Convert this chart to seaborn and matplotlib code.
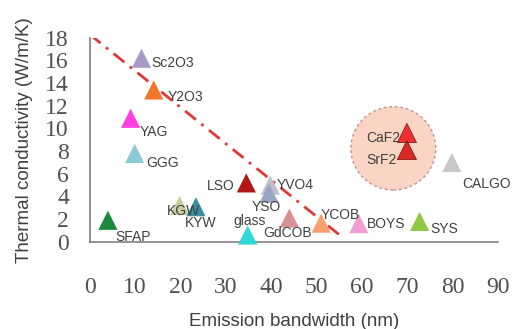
import numpy as np
import matplotlib.pyplot as plt
import pandas as pd
import seaborn as sns
from matplotlib.patches import Ellipse

sns.set_theme(style='white')
plt.rcParams['font.family'] = ['Liberation Sans', 'DejaVu Sans']

# crystal data
names = ['Sc2O3', 'Y2O3', 'YAG', 'GGG', 'LSO', 'YVO4', 'YSO', 'KGW', 'KYW', 'SFAP',
         'glass', 'GdCOB', 'YCOB', 'BOYS', 'SYS', 'CALGO', 'CaF2', 'SrF2']
bandwidth = [11.4, 14.1, 9.0, 9.9, 34.5, 39.8, 39.5, 19.8, 23.4, 4.0,
             34.8, 44.0, 51.0, 59.3, 72.7, 79.8, 69.9, 69.9]
conductivity = [16.2, 13.4, 10.9, 7.8, 5.2, 5.0, 4.3, 3.2, 3.1, 1.9,
                0.6, 2.1, 1.65, 1.6, 1.8, 7.0, 9.6, 8.1]
colors = ['#a99bc8', '#f07828', '#ff40e0', '#8ecad6', '#b01818', '#c0c0cc', '#9aa6c6',
          '#c8d0a0', '#3a8ea0', '#1a8a3a', '#30d8d8', '#d89090', '#f8a070', '#f0a0d0',
          '#90c840', '#c8c8c8', '#f03030', '#d82820']
# label offsets in pixels (dx, dy) and alignment
offsets = {'Sc2O3': (10, -5, 'left'), 'Y2O3': (14, -7, 'left'), 'YAG': (9, -14, 'left'),
           'GGG': (12, -10, 'left'), 'LSO': (-12, -3, 'right'), 'YVO4': (6, 0, 'left'),
           'YSO': (-3, -14, 'center'), 'KGW': (-13, -5, 'left'), 'KYW': (-11, -16, 'left'),
           'SFAP': (7, -17, 'left'), 'glass': (2, 14, 'center'), 'GdCOB': (-2, -15, 'center'),
           'YCOB': (-1, 8, 'left'), 'BOYS': (8, 0, 'left'), 'SYS': (11, -8, 'left'),
           'CALGO': (10, -22, 'left'), 'CaF2': (-7, -5, 'right'), 'SrF2': (-10, -10, 'right')}

line_x = [0, 56]
line_y = [18.3, 0.3]

df = pd.DataFrame({'name': names, 'bw': bandwidth, 'k': conductivity})

fig = plt.figure(figsize=(5.13, 3.29), dpi=100)
ax = fig.add_axes([0.175, 0.265, 0.796, 0.62])

ax.add_patch(Ellipse((66.9, 8.25), 18.7, 7.35, facecolor='#fbd5c4', edgecolor='#c09090',
                     ls=(0, (2, 2)), lw=1, zorder=1))

ax.plot(line_x, line_y, color='#e03838', lw=2, ls=(0, (5, 2.5, 1, 2.5)), zorder=2)

sns.scatterplot(data=df, x='bw', y='k', hue='name', palette=dict(zip(names, colors)),
                marker='^', s=190, edgecolor='none', legend=False, ax=ax, zorder=3,
                clip_on=False)
# darker edge on the fluoride pair
sub = df[df['name'].isin(['CaF2', 'SrF2'])]
ax.scatter(sub['bw'], sub['k'], marker='^', s=190, facecolor='none',
           edgecolor='#802020', lw=0.6, zorder=4)

for n, x, y in zip(names, bandwidth, conductivity):
    dx, dy, ha = offsets[n]
    ax.annotate(n, (x, y), xytext=(dx, dy), textcoords='offset pixels', ha=ha,
                va='center', fontsize=10, color='#404040', zorder=5)

ax.set_xlim(0, 90)
ax.set_ylim(0, 18)
ax.set_xticks(range(0, 91, 10))
ax.set_yticks(range(0, 19, 2))
for s in ['top', 'right']:
    ax.spines[s].set_visible(False)
for s in ['left', 'bottom']:
    ax.spines[s].set_color('#808080')
    ax.spines[s].set_linewidth(1.2)
ax.tick_params(axis='both', direction='out', length=6, width=1, color='#808080',
               labelcolor='#505050', labelsize=17)
ax.tick_params(axis='x', pad=19)
ax.tick_params(axis='y', pad=9)
for lab in ax.get_xticklabels() + ax.get_yticklabels():
    lab.set_family('Liberation Serif')

ax.set_xlabel('Emission bandwidth (nm)', fontsize=13.5, color='#404040', labelpad=11)
ax.set_ylabel('Thermal conductivity (W/m/K)', fontsize=13.5, color='#404040', labelpad=9)

fig.savefig('out.png', dpi=100)
